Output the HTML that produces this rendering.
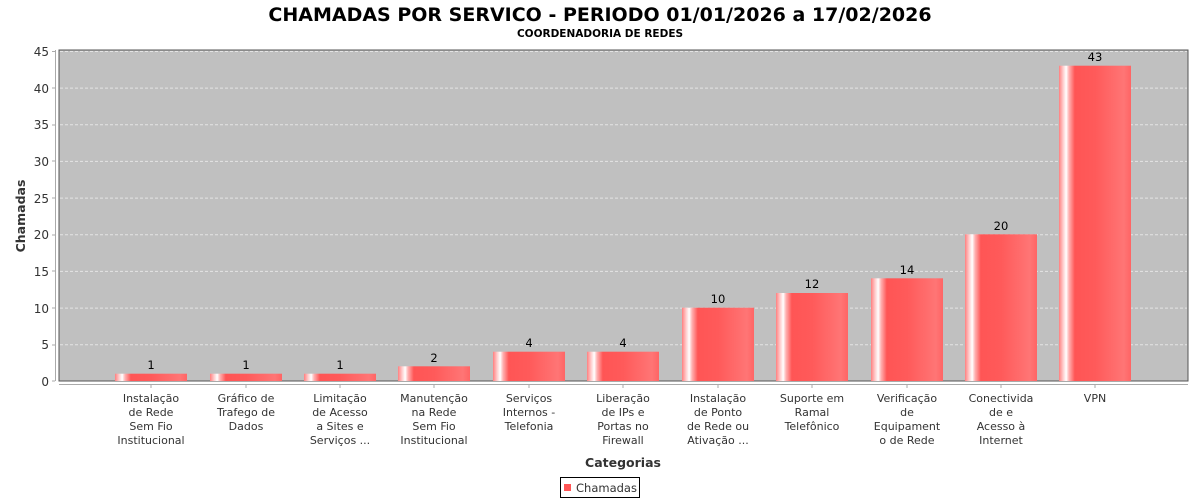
<!DOCTYPE html>
<html><head><meta charset="utf-8"><style>body{margin:0;background:#fff}svg{display:block}text{font-family:"DejaVu Sans","Liberation Sans",sans-serif}</style></head>
<body>
<svg width="1200" height="500" xmlns="http://www.w3.org/2000/svg">
<defs>
<linearGradient id="g" x1="0" x2="1" y1="0" y2="0">
<stop offset="0" stop-color="#ff8080"/>
<stop offset="0.06" stop-color="#ffd0d0"/>
<stop offset="0.1" stop-color="#ffffff"/>
<stop offset="0.14" stop-color="#ffb0b0"/>
<stop offset="0.22" stop-color="#ff5555"/>
<stop offset="0.5" stop-color="#ff5a5a"/>
<stop offset="0.9" stop-color="#ff7575"/>
<stop offset="1" stop-color="#ff6565"/>
</linearGradient>
</defs>
<text x="600" y="21" text-anchor="middle" font-size="19" font-weight="bold" fill="#000">CHAMADAS POR SERVICO - PERIODO 01/01/2026 a 17/02/2026</text>
<text x="600" y="37" text-anchor="middle" font-size="10.5" font-weight="bold" fill="#000">COORDENADORIA DE REDES</text>
<rect x="59" y="50" width="1129" height="331" fill="#c0c0c0" stroke="#555" stroke-width="1"/>
<g stroke="#e4e4e4" stroke-dasharray="3,2" stroke-width="1">
<line x1="60" x2="1187" y1="51.5" y2="51.5"/>
<line x1="60" x2="1187" y1="88.1" y2="88.1"/>
<line x1="60" x2="1187" y1="124.8" y2="124.8"/>
<line x1="60" x2="1187" y1="161.4" y2="161.4"/>
<line x1="60" x2="1187" y1="198.1" y2="198.1"/>
<line x1="60" x2="1187" y1="234.8" y2="234.8"/>
<line x1="60" x2="1187" y1="271.4" y2="271.4"/>
<line x1="60" x2="1187" y1="308.1" y2="308.1"/>
<line x1="60" x2="1187" y1="344.7" y2="344.7"/>
</g>
<line x1="55.5" x2="55.5" y1="50" y2="381" stroke="#aaa"/>
<line x1="59" x2="1188" y1="384.5" y2="384.5" stroke="#aaa"/>
<g font-size="12" fill="#333" text-anchor="end">
<text x="49" y="56">45</text><text x="49" y="93">40</text><text x="49" y="129">35</text><text x="49" y="166">30</text><text x="49" y="203">25</text><text x="49" y="239">20</text><text x="49" y="276">15</text><text x="49" y="313">10</text><text x="49" y="349">5</text><text x="49" y="386">0</text>
</g>
<g stroke="#aaa"><line x1="52" x2="55" y1="51.5" y2="51.5"/><line x1="52" x2="55" y1="88" y2="88"/><line x1="52" x2="55" y1="125" y2="125"/><line x1="52" x2="55" y1="161" y2="161"/><line x1="52" x2="55" y1="198" y2="198"/><line x1="52" x2="55" y1="235" y2="235"/><line x1="52" x2="55" y1="271" y2="271"/><line x1="52" x2="55" y1="308" y2="308"/><line x1="52" x2="55" y1="345" y2="345"/><line x1="52" x2="55" y1="381" y2="381"/></g>
<text transform="translate(25,216) rotate(-90)" text-anchor="middle" font-size="12.5" font-weight="bold" fill="#333">Chamadas</text>
<g fill="url(#g)">
<rect x="115" y="373.7" width="72" height="7.3"/>
<rect x="210" y="373.7" width="72" height="7.3"/>
<rect x="304" y="373.7" width="72" height="7.3"/>
<rect x="398" y="366.3" width="72" height="14.7"/>
<rect x="493" y="351.7" width="72" height="29.3"/>
<rect x="587" y="351.7" width="72" height="29.3"/>
<rect x="682" y="307.7" width="72" height="73.3"/>
<rect x="776" y="293" width="72" height="88"/>
<rect x="871" y="278.3" width="72" height="102.7"/>
<rect x="965" y="234.3" width="72" height="146.7"/>
<rect x="1059" y="65.7" width="72" height="315.3"/>
</g>
<g font-size="11.5" fill="#000" text-anchor="middle">
<text x="151" y="369">1</text><text x="246" y="369">1</text><text x="340" y="369">1</text><text x="434" y="362">2</text><text x="529" y="347">4</text><text x="623" y="347">4</text><text x="718" y="303">10</text><text x="812" y="288">12</text><text x="907" y="274">14</text><text x="1001" y="230">20</text><text x="1095" y="61">43</text>
</g>
<g stroke="#aaa"><line x1="151" x2="151" y1="385" y2="388"/><line x1="246" x2="246" y1="385" y2="388"/><line x1="340" x2="340" y1="385" y2="388"/><line x1="434" x2="434" y1="385" y2="388"/><line x1="529" x2="529" y1="385" y2="388"/><line x1="623" x2="623" y1="385" y2="388"/><line x1="718" x2="718" y1="385" y2="388"/><line x1="812" x2="812" y1="385" y2="388"/><line x1="907" x2="907" y1="385" y2="388"/><line x1="1001" x2="1001" y1="385" y2="388"/><line x1="1095" x2="1095" y1="385" y2="388"/></g>
<g font-size="11" fill="#333" text-anchor="middle">
<text x="151" y="402">Instalação</text><text x="151" y="416">de Rede</text><text x="151" y="430">Sem Fio</text><text x="151" y="444">Institucional</text>
<text x="246" y="402">Gráfico de</text><text x="246" y="416">Trafego de</text><text x="246" y="430">Dados</text>
<text x="340" y="402">Limitação</text><text x="340" y="416">de Acesso</text><text x="340" y="430">a Sites e</text><text x="340" y="444">Serviços ...</text>
<text x="434" y="402">Manutenção</text><text x="434" y="416">na Rede</text><text x="434" y="430">Sem Fio</text><text x="434" y="444">Institucional</text>
<text x="529" y="402">Serviços</text><text x="529" y="416">Internos -</text><text x="529" y="430">Telefonia</text>
<text x="623" y="402">Liberação</text><text x="623" y="416">de IPs e</text><text x="623" y="430">Portas no</text><text x="623" y="444">Firewall</text>
<text x="718" y="402">Instalação</text><text x="718" y="416">de Ponto</text><text x="718" y="430">de Rede ou</text><text x="718" y="444">Ativação ...</text>
<text x="812" y="402">Suporte em</text><text x="812" y="416">Ramal</text><text x="812" y="430">Telefônico</text>
<text x="907" y="402">Verificação</text><text x="907" y="416">de</text><text x="907" y="430">Equipament</text><text x="907" y="444">o de Rede</text>
<text x="1001" y="402">Conectivida</text><text x="1001" y="416">de e</text><text x="1001" y="430">Acesso à</text><text x="1001" y="444">Internet</text>
<text x="1095" y="402">VPN</text>
</g>
<text x="623" y="467" text-anchor="middle" font-size="12.5" font-weight="bold" fill="#333">Categorias</text>
<rect x="560.5" y="477.5" width="79" height="20" fill="#fff" stroke="#000"/>
<rect x="564" y="484" width="7" height="7" fill="#ff5555"/>
<text x="576" y="492" font-size="11.5" fill="#333">Chamadas</text>
</svg>
</body></html>
